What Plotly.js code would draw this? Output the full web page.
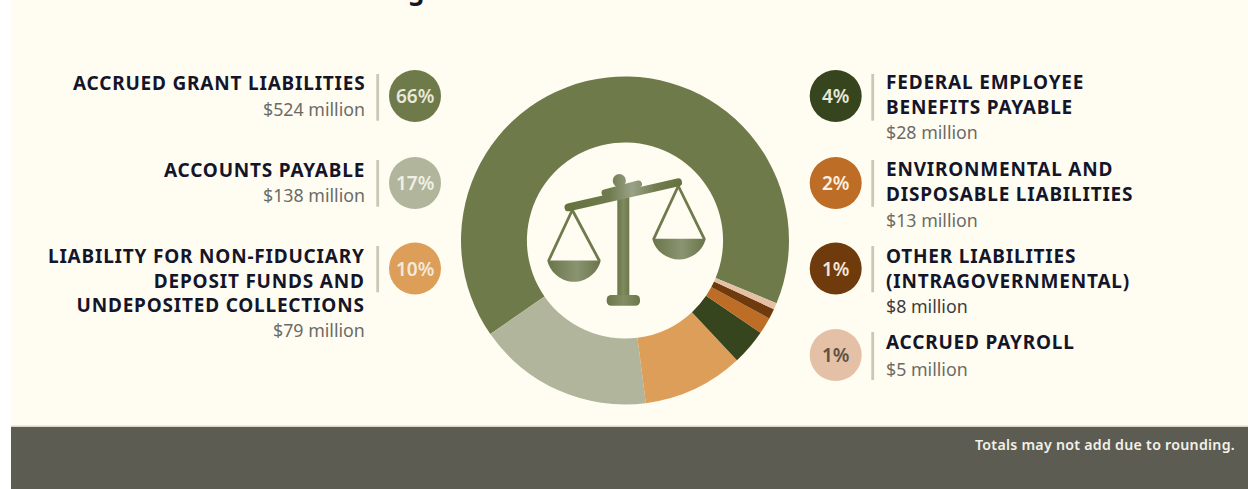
<!DOCTYPE html>
<html>
<head>
<meta charset="utf-8">
<title>Liabilities breakdown</title>
<script src="https://cdn.plot.ly/plotly-3.0.1.min.js"></script>
<style>
  html, body { margin: 0; padding: 0; background: #ffffff; }
  #chart { width: 1248px; height: 489px; }
</style>
</head>
<body>
<div id="chart"></div>
<script>
// Liabilities, in millions of dollars
const categories = [
  ["ACCRUED GRANT LIABILITIES"],
  ["ACCOUNTS PAYABLE"],
  ["LIABILITY FOR NON-FIDUCIARY", "DEPOSIT FUNDS AND", "UNDEPOSITED COLLECTIONS"],
  ["FEDERAL EMPLOYEE", "BENEFITS PAYABLE"],
  ["ENVIRONMENTAL AND", "DISPOSABLE LIABILITIES"],
  ["OTHER LIABILITIES", "(INTRAGOVERNMENTAL)"],
  ["ACCRUED PAYROLL"]
];
const amounts = [524, 138, 79, 28, 13, 8, 5];
const shares = [66, 17, 10, 4, 2, 1, 1];
const sliceColors = ["#6e7a4a", "#b0b59c", "#dd9e59", "#37451e", "#bd6d25", "#6f3a0c", "#e3c0a6"];

// Page geometry, in pixels
const W = 1248, H = 489;
const px = x => x / W;
const py = y => 1 - y / H;
const donut = { cx: 625, cy: 240.5, r: 164, hole: 0.598 };

const chipRow = [96, 183, 268.5, 96, 183, 268.5, 355];
const chipColumn = [415, 415, 415, 835.7, 835.7, 835.7, 835.7];
const chipTextColors = ["#e8e8da", "#f0f0e4", "#f3ead8", "#e8e8da", "#fbf0e0", "#f3e6d6", "#5c5045"];
const barSpans = [[74, 120.7], [160, 206.7], [246, 292.3], [74, 120.7], [160, 206.7], [246, 292.3], [332, 380]];
const barColumn = [377.7, 377.7, 377.7, 872.7, 872.7, 872.7, 872.7];
const labelFirstLine = [83.5, 169.5, 255.7, 82.3, 169.3, 255.7, 342.3];
const amountLine = [108.7, 195, 330, 132.3, 219.7, 305.7, 369.3];
const amountColors = ["#6b6b66", "#6b6b66", "#6b6b66", "#6b6b66", "#6b6b66", "#3c3c3c", "#6b6b66"];
const LINE_STEP = 24.7;
const LEFT_TEXT_EDGE = 366, RIGHT_TEXT_EDGE = 885;

const FONT = '"Noto Sans", "Open Sans", sans-serif';
const INK = "#15152a";

function label(text, x, y, anchor, size, color, weight) {
  return {
    xref: "paper", yref: "paper", x: px(x), y: py(y),
    xanchor: anchor, yanchor: "middle", align: anchor, showarrow: false,
    text: text,
    borderpad: 0,
    font: { family: FONT, size: size, color: color, weight: weight }
  };
}

const tracked = (text, spacing) => '<span style="letter-spacing:' + spacing + 'px">' + text + "</span>";

const shapes = [
  // Cream panel and dark footer band
  { type: "rect", xref: "paper", yref: "paper", layer: "below", x0: px(11), x1: 1, y0: py(0), y1: py(425.5), fillcolor: "#fffdf2", line: { width: 0 } },
  { type: "rect", xref: "paper", yref: "paper", layer: "below", x0: px(11), x1: 1, y0: py(425.5), y1: py(427), fillcolor: "#d9d8c8", line: { width: 0 } },
  { type: "rect", xref: "paper", yref: "paper", layer: "below", x0: px(11), x1: 1, y0: py(427), y1: 0, fillcolor: "#5c5c53", line: { width: 0 } }
];
const annotations = [];

// Heading, set high enough that only its descender reaches the page
annotations.push(label("Figure", 385, -10, "left", 26, INK, 700));

categories.forEach((lines, i) => {
  const onLeft = i < 3;
  const edge = onLeft ? LEFT_TEXT_EDGE : RIGHT_TEXT_EDGE;
  const anchor = onLeft ? "right" : "left";
  const R = 26;

  shapes.push({
    type: "circle", xref: "paper", yref: "paper", layer: "below",
    x0: px(chipColumn[i] - R), x1: px(chipColumn[i] + R),
    y0: py(chipRow[i] - R), y1: py(chipRow[i] + R),
    fillcolor: sliceColors[i], line: { width: 0 }
  });
  shapes.push({
    type: "rect", xref: "paper", yref: "paper", layer: "below",
    x0: px(barColumn[i] - 1.4), x1: px(barColumn[i] + 1.4),
    y0: py(barSpans[i][0]), y1: py(barSpans[i][1]),
    fillcolor: "#c9c8b4", line: { width: 0 }
  });

  annotations.push(label(shares[i] + "%", chipColumn[i], chipRow[i], "center", 19, chipTextColors[i], 600));

  const heading = lines.map(line => tracked(line, 0.8)).join("<br>");
  const headingCentre = labelFirstLine[i] + (lines.length - 1) * LINE_STEP / 2;
  annotations.push(label(heading, edge, headingCentre, anchor, 19, INK, 700));
  annotations.push(label("$" + amounts[i] + " million", edge, amountLine[i], anchor, 17.8, amountColors[i], 400));
});

annotations.push(label(tracked("Totals may not add due to rounding.", 0.27), 1236, 444, "right", 14.2, "#f1f1e8", 600));

// Balance scale in the donut hole, with soft metallic shading
const scaleSvg = `<svg xmlns="http://www.w3.org/2000/svg" width="720" height="580" viewBox="540 170 180 145">
<defs>
<linearGradient id="beam" gradientUnits="userSpaceOnUse" x1="566" y1="0" x2="680" y2="0"><stop offset="0" stop-color="#66713f"/><stop offset="0.38" stop-color="#6f7b4d"/><stop offset="0.58" stop-color="#9aa287"/><stop offset="0.78" stop-color="#717d50"/><stop offset="1" stop-color="#66713f"/></linearGradient>
<linearGradient id="post" gradientUnits="userSpaceOnUse" x1="617" y1="0" x2="630" y2="0"><stop offset="0" stop-color="#6a7647"/><stop offset="0.5" stop-color="#7f8a60"/><stop offset="1" stop-color="#6a7647"/></linearGradient>
<linearGradient id="foot" gradientUnits="userSpaceOnUse" x1="606" y1="0" x2="641" y2="0"><stop offset="0" stop-color="#6a7647"/><stop offset="0.5" stop-color="#838d65"/><stop offset="1" stop-color="#6a7647"/></linearGradient>
<linearGradient id="panL" gradientUnits="userSpaceOnUse" x1="547" y1="0" x2="601" y2="0"><stop offset="0" stop-color="#69744a"/><stop offset="0.55" stop-color="#8a9470"/><stop offset="1" stop-color="#69744a"/></linearGradient>
<linearGradient id="panR" gradientUnits="userSpaceOnUse" x1="652" y1="0" x2="706" y2="0"><stop offset="0" stop-color="#69744a"/><stop offset="0.55" stop-color="#8a9470"/><stop offset="1" stop-color="#69744a"/></linearGradient>
</defs>
<g fill="none" stroke="#6f7a4d" stroke-width="2.8" stroke-linejoin="round">
<path d="M572.3 210 L548.5 261 M572.3 210 L599.5 261"/>
<path d="M678.3 186 L653.5 239.3 M678.3 186 L704.5 239.3"/>
</g>
<path d="M547.3 260.5 H600.7 C598 273 586 281.8 574 281.8 C562 281.8 550 273 547.3 260.5 Z" fill="url(#panL)"/>
<path d="M652.3 238.8 H705.7 C703 251 691 259.6 679 259.6 C667 259.6 655 251 652.3 238.8 Z" fill="url(#panR)"/>
<rect x="617.3" y="192" width="12" height="106" fill="url(#post)"/>
<rect x="606.7" y="295" width="33.3" height="10.7" rx="4.5" fill="url(#foot)"/>
<line x1="568.5" y1="207.3" x2="678" y2="182.3" stroke="url(#beam)" stroke-width="8" stroke-linecap="round"/>
<line x1="605" y1="193" x2="638.5" y2="184" stroke="url(#beam)" stroke-width="7" stroke-linecap="round"/>
<circle cx="619.3" cy="180.7" r="6.6" fill="url(#beam)"/>
</svg>`;

const data = [{
  type: "pie",
  labels: categories.map(lines => lines.join(" ")),
  values: amounts,
  sort: false,
  direction: "counterclockwise",
  rotation: -124.8,
  hole: donut.hole,
  textinfo: "none",
  hoverinfo: "skip",
  marker: { colors: sliceColors, line: { width: 0 } },
  domain: {
    x: [px(donut.cx - donut.r), px(donut.cx + donut.r)],
    y: [py(donut.cy + donut.r), py(donut.cy - donut.r)]
  }
}];

const layout = {
  width: W, height: H,
  margin: { l: 0, r: 0, t: 0, b: 0 },
  paper_bgcolor: "#ffffff",
  showlegend: false,
  shapes: shapes,
  annotations: annotations,
  images: [{
    source: "data:image/svg+xml;charset=utf-8," + encodeURIComponent(scaleSvg),
    xref: "paper", yref: "paper",
    x: px(540), y: py(170), sizex: px(180), sizey: 145 / H,
    xanchor: "left", yanchor: "top", sizing: "stretch", layer: "above"
  }]
};

Plotly.newPlot("chart", data, layout, { displayModeBar: false, staticPlot: true });
</script>
</body>
</html>
